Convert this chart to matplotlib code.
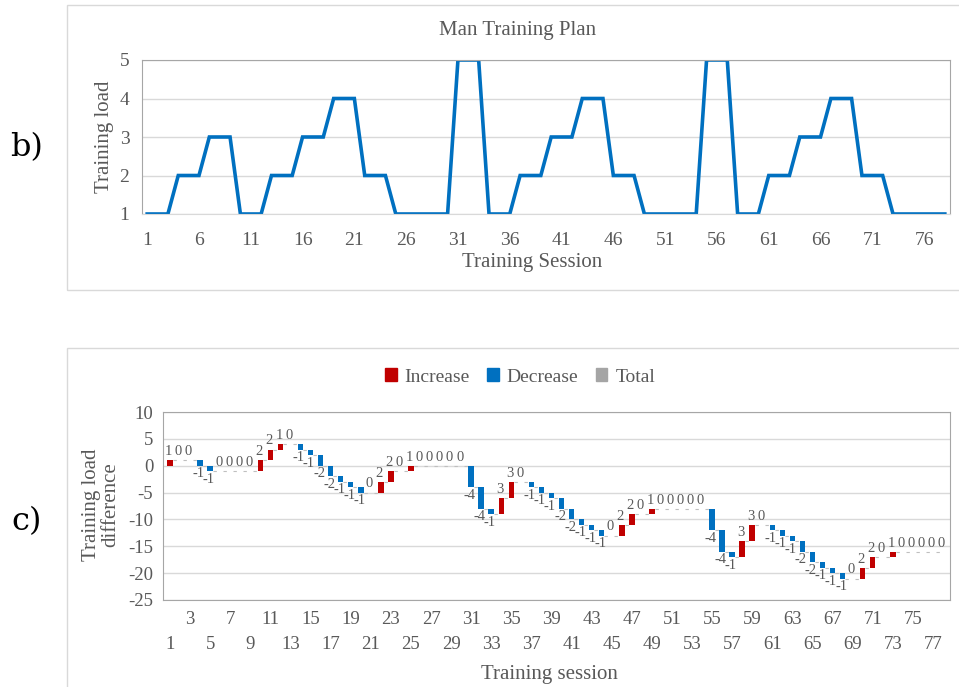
import numpy as np
import matplotlib.pyplot as plt
from matplotlib.patches import Rectangle, Patch

plt.rcParams['font.family'] = ['Liberation Serif', 'DejaVu Serif']
plt.rcParams['axes.unicode_minus'] = False

# top chart: training load per session
sessions = np.arange(1, 79)
load = [1, 1, 1, 2, 2, 2, 3, 3, 3, 1, 1, 1, 2, 2, 2, 3, 3, 3, 4, 4, 4, 2, 2, 2,
        1, 1, 1, 1, 1, 1, 5, 5, 5, 1, 1, 1, 2, 2, 2, 3, 3, 3, 4, 4, 4, 2, 2, 2,
        1, 1, 1, 1, 1, 1, 5, 5, 5, 1, 1, 1, 2, 2, 2, 3, 3, 3, 4, 4, 4, 2, 2, 2,
        1, 1, 1, 1, 1, 1]

# bottom chart: training load difference (waterfall)
diff = [1, 0, 0, -1, -1, 0, 0, 0, 0, 2, 2, 1, 0, -1, -1, -2, -2, -1, -1, -1,
        0, 2, 2, 0, 1, 0, 0, 0, 0, 0, -4, -4, -1, 3, 3, 0, -1, -1, -1, -2,
        -2, -1, -1, -1, 0, 2, 2, 0, 1, 0, 0, 0, 0, 0, -4, -4, -1, 3, 3, 0,
        -1, -1, -1, -2, -2, -1, -1, -1, 0, 2, 2, 0, 1, 0, 0, 0, 0, 0]

BLUE = '#0070C0'
RED = '#C00000'
GREY_TXT = '#595959'
GRID = '#d9d9d9'

W, H = 959, 687
fig = plt.figure(figsize=(W / 100, H / 100), dpi=100)


def box(x0, y0, x1, y1):
    return [x0 / W, 1 - y1 / H, (x1 - x0) / W, (y1 - y0) / H]


# outer chart frames
for (x0, y0, x1, y1) in [(67, 5, 965, 290), (67, 348, 965, 695)]:
    fig.patches.append(Rectangle((x0 / W, 1 - y1 / H), (x1 - x0) / W, (y1 - y0) / H,
                                 transform=fig.transFigure, fill=False,
                                 edgecolor=GRID, lw=1))

fig.text(27 / W, 1 - 148 / H, 'b)', fontsize=23, family='DejaVu Serif',
         ha='center', va='center')
fig.text(27 / W, 1 - 522 / H, 'c)', fontsize=23, family='DejaVu Serif',
         ha='center', va='center')

# ---- b) line chart
ax1 = fig.add_axes(box(142, 60, 950, 214))
ax1.plot(sessions, load, color=BLUE, lw=2.6, solid_joinstyle='miter')
ax1.set_xlim(0.5, 78.5)
ax1.set_ylim(1, 5)
ax1.set_yticks([1, 2, 3, 4, 5])
ax1.set_xticks(np.arange(1, 79, 5))
ax1.tick_params(length=0, labelsize=14, colors=GREY_TXT)
ax1.tick_params(axis='x', pad=13)
ax1.tick_params(axis='y', pad=9)
ax1.yaxis.grid(True, color=GRID, lw=1)
ax1.set_axisbelow(True)
for s in ['top', 'right', 'left']:
    ax1.spines[s].set_color('#a6a6a6')
ax1.spines['bottom'].set_color(GRID)
fig.text(518 / W, 1 - 30 / H, 'Man Training Plan', fontsize=15,
         color=GREY_TXT, ha='center', va='center')
fig.text(532 / W, 1 - 263 / H, 'Training Session', fontsize=15,
         color=GREY_TXT, ha='center', va='center')
fig.text(105 / W, 1 - 137 / H, 'Training load', fontsize=15,
         color=GREY_TXT, ha='center', va='center', rotation=90)

# ---- c) waterfall
ax2 = fig.add_axes(box(163, 412, 950, 600))
cats = np.arange(1, len(diff) + 1)
end = np.cumsum(diff)
start = end - np.array(diff)
bw = 0.55
for x, s0, d, e in zip(cats, start, diff, end):
    if d != 0:
        ax2.bar(x, d, bottom=s0, width=bw, color=RED if d > 0 else BLUE, zorder=3)
    if d >= 0:
        ax2.text(x - 0.15, max(s0, e) + 0.4, str(d), fontsize=10.5, color=GREY_TXT,
                 ha='center', va='bottom', zorder=4)
    else:
        ax2.text(x - 0.15, e - 0.3, str(d), fontsize=10.5, color=GREY_TXT,
                 ha='center', va='top', zorder=4)
# connector lines
for x, e in zip(cats[:-1], end[:-1]):
    ax2.plot([x + bw / 2, x + 1 - bw / 2], [e, e], color='#bfbfbf', lw=0.8,
             ls=(0, (3, 2)), zorder=2)

ax2.set_xlim(0.3, 78.7)
ax2.set_ylim(-25, 10)
ax2.set_yticks(np.arange(-25, 11, 5))
ax2.yaxis.grid(True, color=GRID, lw=1)
ax2.set_axisbelow(True)
ax2.set_xticks(np.arange(3, 79, 4))
ax2.set_xticks(np.arange(1, 79, 4), minor=True)
ax2.set_xticklabels([str(v) for v in np.arange(3, 79, 4)])
ax2.set_xticklabels([str(v) for v in np.arange(1, 79, 4)], minor=True)
ax2.tick_params(which='both', length=0, labelsize=13.5, colors=GREY_TXT)
ax2.tick_params(axis='x', which='major', pad=8)
ax2.tick_params(axis='x', which='minor', pad=26)
ax2.tick_params(axis='y', pad=7)
for s in ax2.spines.values():
    s.set_color('#a6a6a6')
fig.text(549 / W, 1 - 675 / H, 'Training session', fontsize=15,
         color=GREY_TXT, ha='center', va='center')
fig.text(101 / W, 1 - 505 / H, 'Training load\ndifference', fontsize=15,
         color=GREY_TXT, ha='center', va='center', rotation=90, linespacing=1.05)

handles = [Patch(color=RED, label='Increase'), Patch(color=BLUE, label='Decrease'),
           Patch(color='#a5a5a5', label='Total')]
fig.legend(handles=handles, loc='center', bbox_to_anchor=(520 / W, 1 - 377 / H),
           ncol=3, frameon=False, fontsize=14, handlelength=0.6, handleheight=0.6,
           handletextpad=0.4, columnspacing=0.9, labelcolor=GREY_TXT)

fig.savefig('out.png', dpi=100)
